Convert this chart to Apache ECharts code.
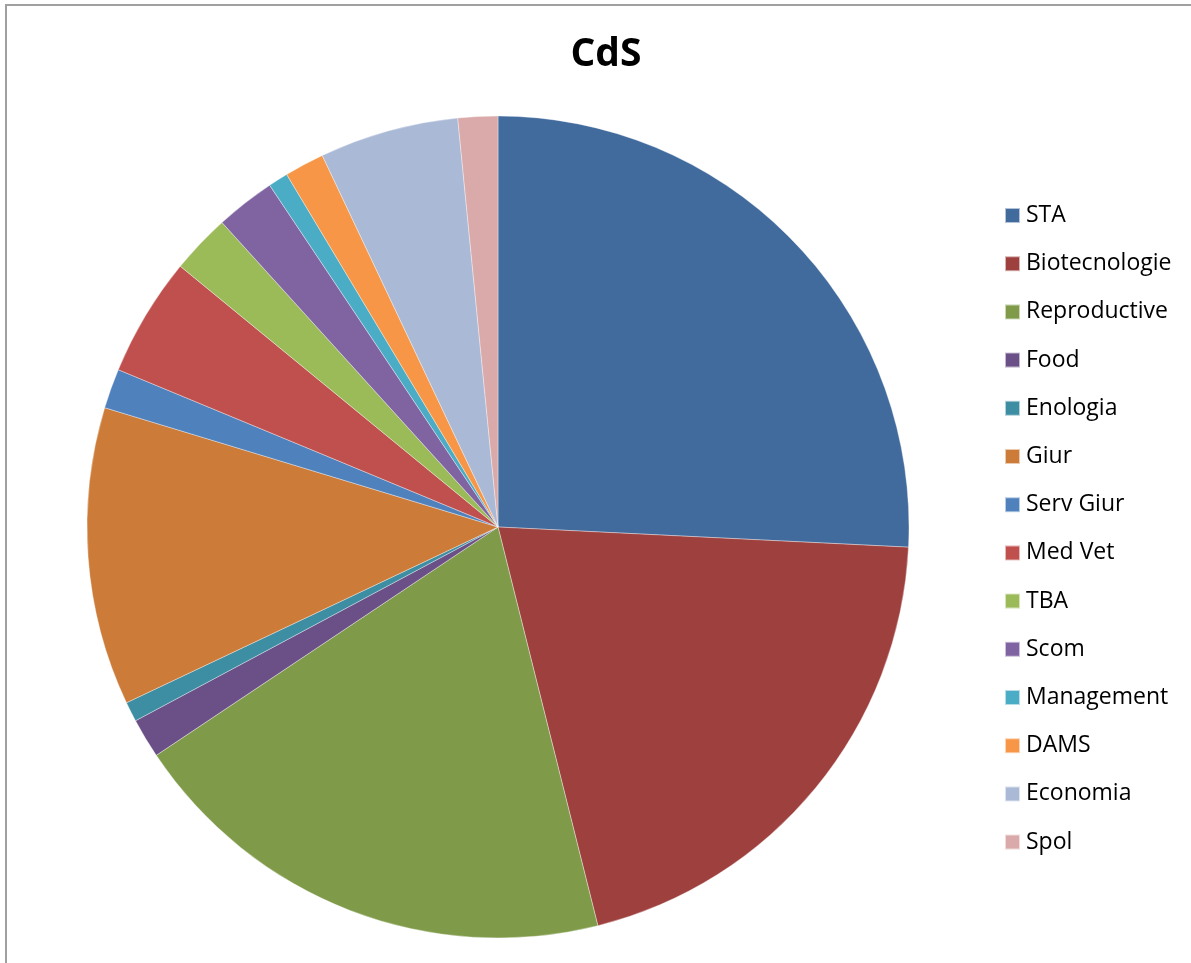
<!DOCTYPE html>
<html>
<head>
<meta charset="utf-8">
<script src="https://cdn.jsdelivr.net/npm/echarts@6/dist/echarts.min.js"></script>
<style>
html,body{margin:0;padding:0;background:#fff;}
#c{width:1191px;height:963px;}
</style>
</head>
<body>
<div id="c"></div>
<script>
const categories = ['STA','Biotecnologie','Reproductive','Food','Enologia','Giur','Serv Giur','Med Vet','TBA','Scom','Management','DAMS','Economia','Spol'];
const values = [33,26,25,2,1,15,2,6,3,3,1,2,7,2];
const colors = ['#416A9D','#9E413E','#7F9A48','#6A5087','#3D8DA3','#CC7B38','#4F81BD','#C0504D','#9BBB59','#8064A2','#4BACC6','#F79646','#AAB9D6','#D9AAA9'];

const chart = echarts.init(document.getElementById('c'));
chart.setOption({
  animation: false,
  backgroundColor: '#fff',
  title: {
    text: 'CdS',
    left: 601,
    top: 30,
    textAlign: 'center',
    textStyle: {fontFamily: 'Open Sans', fontWeight: 'bold', fontSize: 39, color: '#000'}
  },
  legend: {
    orient: 'vertical',
    left: 999,
    top: 199,
    itemWidth: 15,
    itemHeight: 15,
    itemGap: 25.2,
    icon: 'rect',
    textStyle: {fontFamily: 'Open Sans', fontSize: 23, lineHeight: 23, color: '#000', padding: [0,0,0,1]},
    data: categories
  },
  graphic: [{
    type: 'polyline',
    shape: {points: [[6, 963], [6, 5], [1191, 5]]},
    style: {stroke: '#a0a0a0', lineWidth: 2, fill: null}
  }],
  series: [{
    type: 'pie',
    center: [498, 527],
    radius: 411,
    startAngle: 90,
    clockwise: true,
    label: {show: false},
    labelLine: {show: false},
    emphasis: {disabled: true},
    itemStyle: {borderColor: 'rgba(255,255,255,0.6)', borderWidth: 0.6},
    data: categories.map((n, i) => ({name: n, value: values[i], itemStyle: {color: colors[i]}}))
  }]
});
</script>
</body>
</html>
